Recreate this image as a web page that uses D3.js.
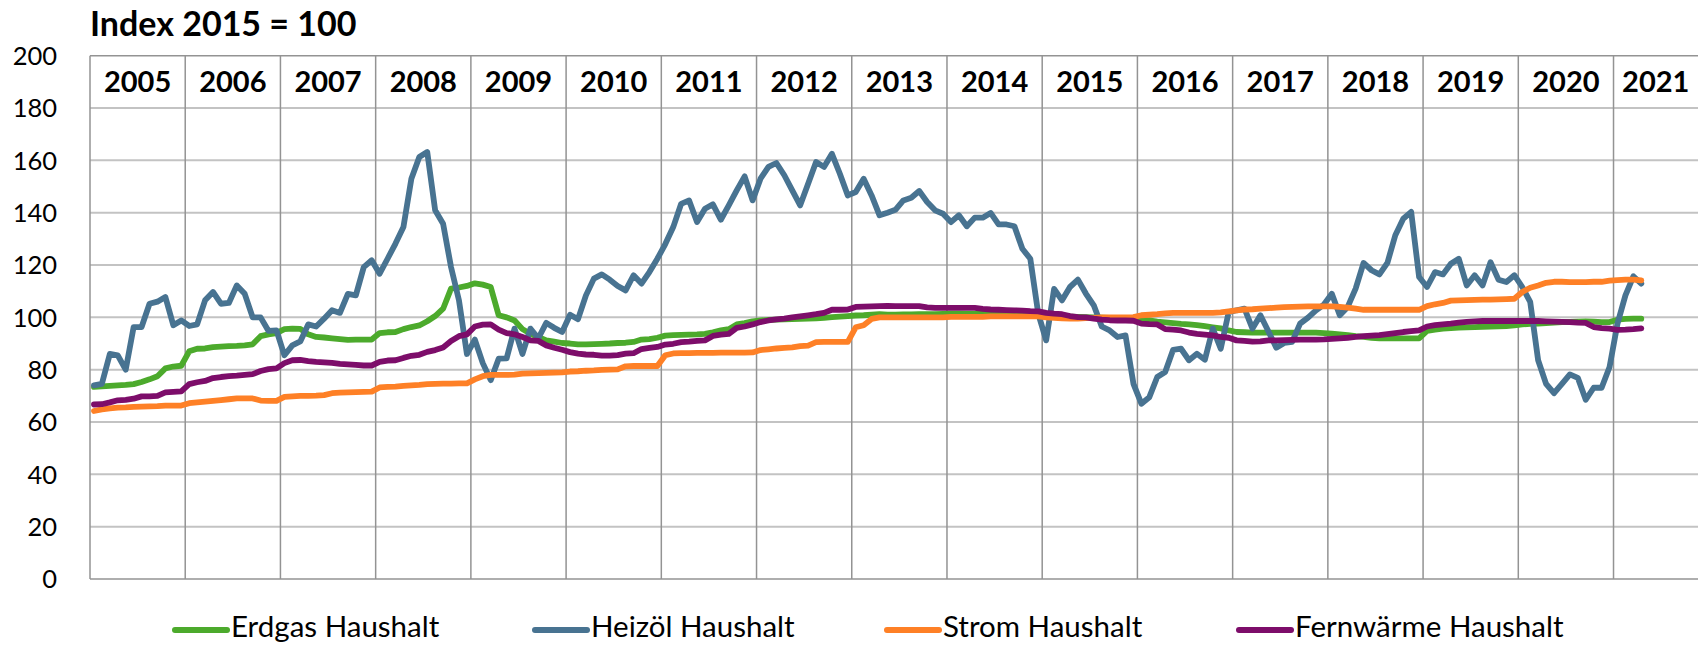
<!DOCTYPE html>
<html><head><meta charset="utf-8">
<script src="https://cdn.jsdelivr.net/npm/d3@7/dist/d3.min.js"></script>
<style>
body{margin:0;background:#fff;}
svg{display:block;}
text{font-family:Lato,"Open Sans",sans-serif;fill:#000;}
</style>
</head><body>
<svg id="chart" width="1698" height="645"></svg>
<script>
const titleText = "Index 2015 = 100";
const years = [2005,2006,2007,2008,2009,2010,2011,2012,2013,2014,2015,2016,2017,2018,2019,2020,2021];
const yTicks = [0,20,40,60,80,100,120,140,160,180,200];
const seriesNames = ["Erdgas Haushalt","Heizöl Haushalt","Strom Haushalt","Fernwärme Haushalt"];
const seriesColors = ["#4caa2c","#487391","#fe8026","#7d0d6a"];

// monthly values, Jan 2005 .. Apr 2021
const erdgas = [
73.4,73.6,73.8,74,74.2,74.5,75.3,76.3,77.5,80.5,81.2,81.5,
87,88,88.1,88.6,88.8,89,89.1,89.3,89.7,92.8,93.5,94,
95.5,95.7,95.6,93.5,92.5,92.3,92,91.7,91.4,91.5,91.5,91.5,
94,94.3,94.4,95.5,96.3,96.9,98.5,100.5,103.3,111,111.4,112,
113,112.5,111.6,100.8,100,98.8,95.5,93.7,92.5,91.2,90.7,90.2,
90,89.7,89.7,89.8,89.9,90,90.2,90.3,90.6,91.5,91.7,92.2,
93,93.2,93.3,93.4,93.5,93.7,94.3,95,95.5,97.3,97.8,98.5,
98.8,99,99.1,99.2,99.3,99.4,99.5,99.6,99.8,100.1,100.3,100.5,
100.7,100.8,101,101.2,101,101,101.1,101.1,101.2,101.2,101.2,101.3,
101.4,101.4,101.3,101.3,101.3,101.2,101.2,101.1,101.1,101,101,100.9,
100.6,100.5,100.4,100.3,100.2,100.1,100,99.9,99.8,99.7,99.6,99.5,
99,98.8,98.4,98.1,97.8,97.5,97.3,97,96.6,96.2,95.8,95,
94.4,94.3,94.2,94.2,94.2,94.2,94.2,94.2,94.2,94.2,94.2,94,
93.8,93.5,93.2,92.8,92.5,92.2,92,92,92,92,92,92,
94.8,95.3,95.7,95.9,96.1,96.2,96.3,96.4,96.5,96.6,96.7,96.9,
97.3,97.5,97.6,97.8,98,98.2,98.3,98.4,98.5,98.4,98.2,98.2,
99.1,99.4,99.5,99.5
];
const heizoel = [
74,74.6,86,85.5,80,96.3,96.3,105.2,106,107.8,97,98.8,
96.7,97.3,106.5,109.7,105.2,105.5,112.2,109,100,100,94.8,95,
85.5,89.3,90.8,97.3,96.5,99.5,102.7,101.7,109,108.4,119.2,121.8,
116.7,122.4,128.2,134.5,153,161.3,163.2,140.9,135.8,119.2,106.5,86,
91.5,82.5,76,84.2,84.3,95.7,86,95.7,92,97.9,96,94.4,
101,99.3,108.4,114.8,116.4,114.4,112,110.3,116.1,112.9,117.3,122.4,
128,134.5,143.4,144.7,136.4,141.5,143.2,137.3,142.8,148.5,153.9,144.7,
153,157.5,159,154.3,148.5,142.8,151.1,159.4,157.5,162.5,154.9,146.6,
147.9,153,146.6,139,140,141.1,144.7,145.7,148.3,144.1,140.9,139.6,
136.4,139,134.8,138.1,138.1,139.9,135.5,135.5,134.8,126.2,122.4,101.4,
91.2,110.9,106.5,111.6,114.4,109.1,104.6,96.5,95,92.5,93.1,74.6,
67,69.5,77.2,79.1,87.6,88,83.6,86.1,83.8,95.7,88,102,
102.7,103.3,95.7,100.8,94.7,88.4,90.2,90.6,97.6,99.9,102.7,104.9,
109,100.8,104,111,120.8,118,116.4,120.8,131.4,137.7,140.3,115.4,
111.6,117.3,116.4,120.5,122.4,112.2,116.1,112.2,121.1,114.4,113.5,116.1,
111.6,105.9,83.6,74.6,71,74.6,78.2,76.9,68.5,73.1,73.1,81,
97.6,108.4,115.7,112.9
];
const strom = [
64.2,64.8,65.2,65.5,65.6,65.8,65.9,66,66.1,66.3,66.3,66.3,
67.2,67.5,67.8,68.1,68.4,68.7,69,69,69,68.2,68.1,68.1,
69.6,69.8,70,70,70.1,70.3,71,71.2,71.3,71.4,71.5,71.6,
73.2,73.4,73.5,73.8,74,74.2,74.5,74.6,74.7,74.7,74.8,74.8,
76.3,77.5,78,78,78,78.1,78.5,78.6,78.7,78.8,78.9,79,
79.3,79.4,79.6,79.7,79.9,80,80.1,81.3,81.4,81.4,81.4,81.4,
85.5,86.2,86.3,86.3,86.4,86.4,86.4,86.5,86.5,86.5,86.5,86.6,
87.5,87.8,88.1,88.3,88.5,89,89.2,90.5,90.6,90.6,90.6,90.6,
96.2,97,99.4,100,100,100,100,100,100,100,100,100,
100.2,100.2,100.2,100.2,100.2,100.4,100.4,100.4,100.4,100.4,100.4,100.4,
100,99.8,99.6,99.5,99.5,99.7,99.8,100,100,100,100,100.1,
100.8,101,101.2,101.5,101.7,101.7,101.7,101.7,101.7,101.7,101.9,102.3,
102.7,103,103.1,103.3,103.5,103.7,103.9,104,104.1,104.2,104.2,104.2,
104.2,104,103.7,103.3,102.9,102.9,102.9,102.9,102.9,102.9,102.9,102.9,
104.3,105,105.5,106.4,106.5,106.6,106.7,106.8,106.8,106.9,107,107.1,
109.7,111.3,112.2,113.2,113.6,113.6,113.5,113.5,113.5,113.6,113.6,114,
114.2,114.4,114.4,114.1
];
const fernwaerme = [
66.7,66.8,67.5,68.3,68.5,68.9,69.8,69.8,70,71.3,71.5,71.7,
74.5,75.2,75.7,76.8,77.2,77.5,77.7,78,78.3,79.5,80.2,80.5,
82.5,83.6,83.7,83.3,83,82.8,82.6,82.2,82,81.8,81.6,81.6,
83,83.5,83.6,84.5,85.3,85.7,86.8,87.5,88.5,91,92.8,93.5,
96.5,97.2,97.3,95.3,94,93.5,92.5,91.2,91,89.3,88.4,87.6,
86.7,86.1,85.8,85.7,85.4,85.4,85.6,86.1,86.3,87.9,88.3,88.7,
89.6,89.9,90.5,90.7,91,91.2,92.9,93.4,93.7,96,96.5,97.3,
98.2,98.8,99.2,99.5,100,100.4,100.8,101.2,101.7,102.9,102.9,103,
104,104.1,104.2,104.3,104.4,104.3,104.3,104.3,104.3,103.8,103.6,103.6,
103.6,103.6,103.6,103.6,103.2,103,102.9,102.8,102.7,102.6,102.4,102.3,
101.7,101.4,101.2,100.5,100.1,100,99.5,99.1,98.9,98.8,98.8,98.7,
97.6,97.4,97.3,95.5,95.3,95,94.2,93.7,93.4,93.1,92.5,92.2,
91.2,91,90.7,90.8,91.2,91.2,91.3,91.4,91.5,91.5,91.5,91.6,
91.8,92,92.2,92.5,92.8,93,93.2,93.6,94,94.4,94.7,95,
96.5,97,97.3,97.6,98,98.3,98.5,98.6,98.6,98.6,98.6,98.6,
98.6,98.6,98.6,98.5,98.4,98.3,98.2,98,97.9,96.3,95.9,95.7,
95.2,95.3,95.5,95.8
];

const seriesValues = [erdgas, heizoel, strom, fernwaerme];

const W = 1698, H = 645;
const svg = d3.select("#chart");
const plotLeft = 90, yearWidth = 95.22;
const plotRight = plotLeft + years.length * yearWidth;
const plotTop = 55.7, plotBottom = 579;

const x = d3.scaleLinear().domain([0, years.length * 12]).range([plotLeft, plotRight]);
const y = d3.scaleLinear().domain([0, 200]).range([plotBottom, plotTop]);

// horizontal gridlines
svg.append("g").selectAll("line").data(yTicks.filter(t => t > 0 && t < 200)).join("line")
  .attr("x1", plotLeft).attr("x2", plotRight)
  .attr("y1", d => y(d)).attr("y2", d => y(d))
  .attr("stroke", "#c3c3c3").attr("stroke-width", 2);

// vertical year separators & borders
svg.append("g").selectAll("line").data(d3.range(years.length + 1)).join("line")
  .attr("x1", d => x(d * 12)).attr("x2", d => x(d * 12))
  .attr("y1", plotTop).attr("y2", plotBottom)
  .attr("stroke", "#939393").attr("stroke-width", 1.5);
svg.append("g").selectAll("line").data([0, 200]).join("line")
  .attr("x1", plotLeft).attr("x2", plotRight)
  .attr("y1", d => y(d)).attr("y2", d => y(d))
  .attr("stroke", "#939393").attr("stroke-width", 1.5);

// y axis via d3 axis (labels only)
const yAxis = d3.axisLeft(y).tickValues(yTicks).tickSize(0).tickPadding(0).tickFormat(d3.format("d"));
const gy = svg.append("g").attr("transform", `translate(${57},0)`).call(yAxis);
gy.select(".domain").remove();
gy.selectAll("text").style("font-family", "Lato").style("font-size", "25.5px").attr("fill", "#000").attr("dy", "0.35em");

// year labels inside top band
svg.append("g").selectAll("text").data(years).join("text")
  .attr("x", (d, i) => (x(i * 12) + Math.min(x((i + 1) * 12), W)) / 2)
  .attr("y", (y(200) + y(180)) / 2)
  .attr("dy", "0.36em")
  .attr("text-anchor", "middle")
  .style("font-size", "29px").style("font-weight", "bold")
  .text(d => d);

// title
svg.append("text").attr("x", 90).attr("y", 36)
  .style("font-size", "34px").style("font-weight", "bold").text(titleText);

// lines
const line = d3.line().x((d, i) => x(i + 0.5)).y(d => y(d));
svg.append("g").selectAll("path").data(seriesValues).join("path")
  .attr("d", d => line(d))
  .attr("fill", "none")
  .attr("stroke", (d, i) => seriesColors[i])
  .attr("stroke-width", 5.8)
  .attr("stroke-linejoin", "round")
  .attr("stroke-linecap", "round");

// legend
const legendX = [173, 533, 885, 1237];
const lg = svg.append("g").selectAll("g").data(seriesNames).join("g")
  .attr("transform", (d, i) => `translate(${legendX[i]},627)`);
lg.append("line").attr("x1", 2).attr("x2", 54).attr("y1", 3).attr("y2", 3)
  .attr("stroke", (d, i) => seriesColors[i]).attr("stroke-width", 6).attr("stroke-linecap", "round");
lg.append("text").attr("x", 58).attr("y", 0).attr("dy", "0.35em")
  .style("font-size", "29.5px").text(d => d);
</script>
</body></html>
